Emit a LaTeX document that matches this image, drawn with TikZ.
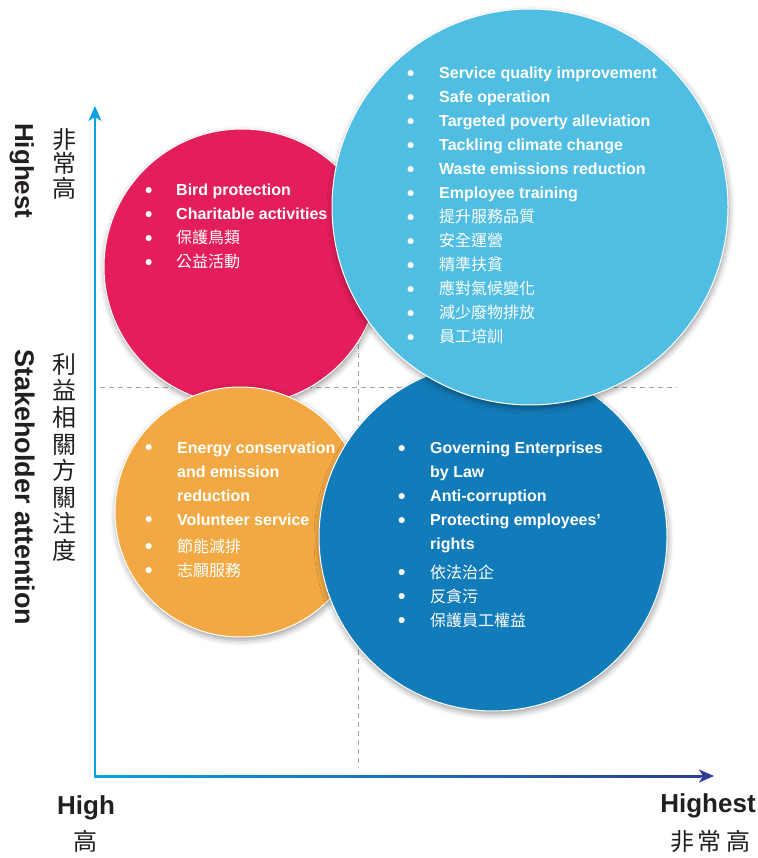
\documentclass[tikz,border=0pt]{standalone}
\usepackage{fontspec}
\setmainfont{Liberation Sans}
\newfontfamily\cjk{Noto Sans CJK TC}
\usepackage{array}
\usepackage{tikz}
\usetikzlibrary{arrows.meta}
\usetikzlibrary{shadows.blur}
\definecolor{rose}{RGB}{227,30,91}
\definecolor{sky}{RGB}{80,190,226}
\definecolor{amber}{RGB}{242,169,67}
\definecolor{ocean}{RGB}{18,124,187}
\definecolor{axisblue}{RGB}{10,162,225}
\definecolor{axisnavy}{RGB}{46,62,146}
\definecolor{guide}{RGB}{165,165,165}
\definecolor{ink}{RGB}{35,31,32}
\newcommand{\zh}[1]{{\cjk\mdseries #1}}
\newcommand{\bul}{\raisebox{-1.8pt}{\fontsize{21}{24}\selectfont\textbullet}}

\tikzset{
  bubble/.style={fill=#1, draw=white, line width=1pt,
    blur shadow={shadow xshift=1pt, shadow yshift=-3pt, shadow blur radius=6pt, shadow opacity=40}},
  itemlist/.style={anchor=base west, inner sep=0pt, text=white,
    font=\fontsize{16}{24}\selectfont\bfseries},
  axislabel/.style={inner sep=0pt, text=ink, font=\fontsize{26}{30}\selectfont\bfseries},
  zhlabel/.style={inner sep=0pt, text=ink, align=center, font=\fontsize{24}{24.5}\selectfont\cjk},
  guideline/.style={guide, line width=0.8pt, dash pattern=on 5pt off 4pt},
  axistip/.style={-{Stealth[width=13pt,length=15pt,inset=4pt]}}
}

\begin{document}
\begin{tikzpicture}[x=1pt,y=-1pt]
  \useasboundingbox (0,0) rectangle (757,858);

  % axes
  \coordinate (origin) at (95,776);
  \coordinate (ytip) at (95,106);
  \coordinate (xtip) at (714,776);
  \coordinate (xneck) at (700,776);
  \draw[guideline] (100,387) -- (677,387);
  \draw[guideline] (358,110) -- (358,768);
  \shade[left color=axisblue, right color=axisnavy] (94,775) rectangle (701,777);
  \draw[axisnavy, line width=2pt, axistip] (xneck) -- (xtip);
  \draw[axisblue, line width=1.8pt, axistip] ([yshift=-1pt]origin) -- (ytip);

  % bubbles
  \coordinate (rosec) at (242,267);
  \coordinate (amberc) at (240,512);
  \coordinate (oceanc) at (493,537);
  \coordinate (skyc) at (530,207);
  \draw[bubble=rose] (rosec) circle[radius=138pt];
  \draw[bubble=amber] (amberc) circle[radius=125pt];
  \draw[bubble=ocean] (oceanc) circle[radius=174pt];
  \draw[bubble=sky] (skyc) circle[radius=198pt];

  % bubble texts
  \node[itemlist] (roselist) at (145,196) {\begin{tabular}[t]{@{}p{31pt}@{}l@{}}
    \bul & Bird protection\\
    \bul & Charitable activities\\
    \bul & \zh{保護鳥類}\\
    \bul & \zh{公益活動}
  \end{tabular}};
  \node[itemlist] (skylist) at (407,78.5) {\begin{tabular}[t]{@{}p{32pt}@{}l@{}}
    \bul & Service quality improvement\\
    \bul & Safe operation\\
    \bul & Targeted poverty alleviation\\
    \bul & Tackling climate change\\
    \bul & Waste emissions reduction\\
    \bul & Employee training\\
    \bul & \zh{提升服務品質}\\
    \bul & \zh{安全運營}\\
    \bul & \zh{精準扶貧}\\
    \bul & \zh{應對氣候變化}\\
    \bul & \zh{減少廢物排放}\\
    \bul & \zh{員工培訓}
  \end{tabular}};
  \node[itemlist] (amberlist) at (145,453) {\begin{tabular}[t]{@{}p{32pt}@{}l@{}}
    \bul & Energy conservation\\
         & and emission\\
         & reduction\\
    \bul & Volunteer service\\[3pt]
    \bul & \zh{節能減排}\\
    \bul & \zh{志願服務}
  \end{tabular}};
  \node[itemlist] (oceanlist) at (398,453.5) {\begin{tabular}[t]{@{}p{32pt}@{}l@{}}
    \bul & Governing Enterprises\\
         & by Law\\
    \bul & Anti-corruption\\
    \bul & Protecting employees’\\
         & rights\\[4.5pt]
    \bul & \zh{依法治企}\\
    \bul & \zh{反貪污}\\
    \bul & \zh{保護員工權益}
  \end{tabular}};

  % axis labels
  \node[axislabel, rotate=-90, anchor=base west] (yhigh) at (15,123) {Highest};
  \node[axislabel, rotate=-90, anchor=base west, font=\fontsize{27}{30}\selectfont\bfseries] (ytitle) at (15,349) {Stakeholder attention};
  \node[zhlabel, anchor=north] (yhighzh) at (64,128) {非\\常\\高};
  \node[zhlabel, anchor=north, font=\fontsize{24}{26.6}\selectfont\cjk] (ytitlezh) at (64,353) {利\\益\\相\\關\\方\\關\\注\\度};
  \node[axislabel, anchor=base] (xlow) at (86,814) {High};
  \node[zhlabel, anchor=base] (xlowzh) at (85,850) {高};
  \node[axislabel, anchor=base] (xhigh) at (708,812) {Highest};
  \node[zhlabel, anchor=base] (xhighzh) at (710,850) {非\hspace{4pt}常\hspace{4pt}高};
\end{tikzpicture}
\end{document}
